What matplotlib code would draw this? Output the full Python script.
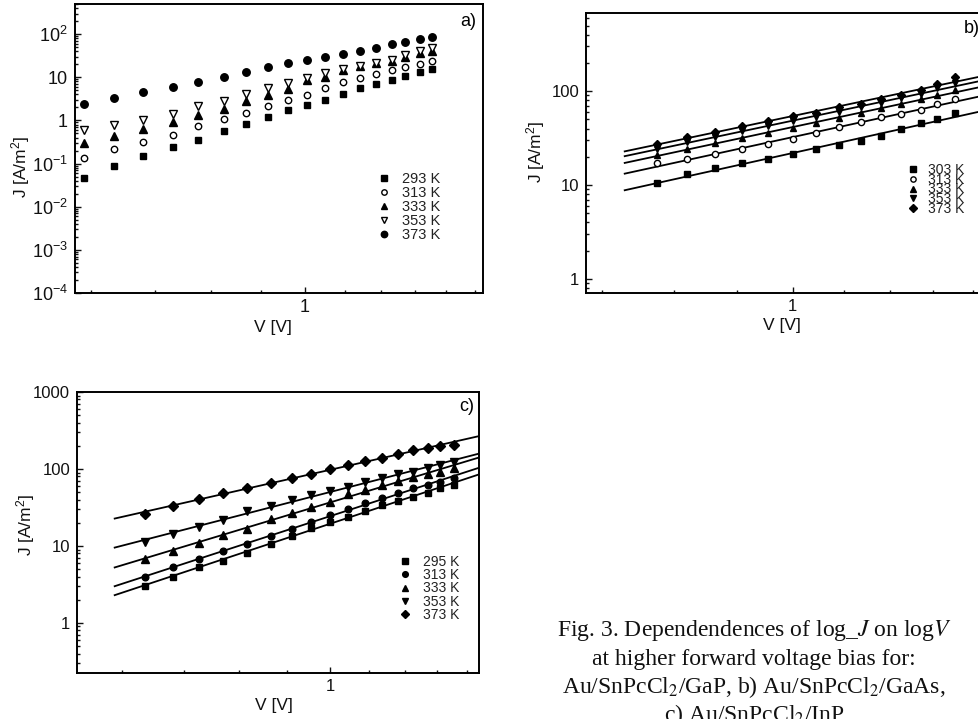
import numpy as np
import matplotlib
matplotlib.use("Agg")
import matplotlib.pyplot as plt
from matplotlib.ticker import FixedLocator, FixedFormatter, NullFormatter, LogLocator

plt.rcParams["font.family"] = ["Liberation Sans", "DejaVu Sans"]
plt.rcParams["mathtext.fontset"] = "custom"
plt.rcParams["mathtext.rm"] = "Liberation Sans"
plt.rcParams["mathtext.it"] = "Liberation Sans:italic"
plt.rcParams["mathtext.bf"] = "Liberation Sans:bold"

# ---------------- data: panel a (Au/SnPcCl2/GaP) ----------------
a_V = [0.59, 0.635, 0.68, 0.73, 0.775, 0.825, 0.87, 0.915, 0.96, 1.005,
       1.05, 1.095, 1.14, 1.185, 1.23, 1.27, 1.315, 1.355]
a_293 = [0.046, 0.089, 0.147, 0.24, 0.36, 0.57, 0.81, 1.2, 1.75, 2.34,
         2.9, 4.1, 5.5, 7.0, 8.5, 10.7, 13.3, 15.8]
a_313 = [0.138, 0.215, 0.32, 0.47, 0.74, 1.09, 1.51, 2.18, 3.0, 3.9,
         5.5, 7.6, 9.5, 12.0, 14.4, 17.4, 20.8, 24.0]
a_333 = [0.30, 0.43, 0.65, 0.93, 1.33, 1.86, 2.8, 3.9, 5.3, 8.7,
         10.0, 14.4, 17.8, 21.0, 24.5, 30.0, 36.0, 40.0]
a_353 = [0.60, 0.78, 1.05, 1.44, 2.15, 2.87, 4.0, 5.5, 7.5, 9.5,
         12.4, 15.4, 18.7, 21.0, 25.3, 33.0, 40.0, 47.0]
a_373 = [2.4, 3.3, 4.5, 6.0, 7.6, 10.0, 13.5, 17.4, 21.5, 25.0,
         29.6, 35.0, 41.0, 47.0, 58.6, 67.5, 76.0, 88.0]
a_labels = ["293 K", "313 K", "333 K", "353 K", "373 K"]

# ---------------- data: panel b (Au/SnPcCl2/GaAs) ----------------
b_V = [0.775, 0.82, 0.865, 0.91, 0.955, 1.0, 1.045, 1.09, 1.135, 1.18,
       1.225, 1.27, 1.31, 1.355]
b_303 = [10.6, 13.0, 15.1, 17.0, 18.8, 21.2, 24.0, 26.7, 29.6, 33.4,
         39.7, 45.3, 50.3, 57.9]
b_313 = [17.0, 19.1, 21.2, 24.0, 27.3, 30.6, 35.5, 41.1, 47.1, 52.5,
         56.9, 63.8, 72.2, 81.6]
b_333 = [20.8, 24.5, 28.2, 32.1, 36.0, 40.1, 45.3, 51.3, 57.9, 65.5,
         72.7, 81.6, 90.6, 102.0]
b_353 = [24.5, 28.9, 32.7, 37.5, 42.4, 48.3, 53.3, 60.3, 67.1, 74.0,
         83.6, 92.9, 107.0, 121.0]
b_373 = [27.3, 32.7, 36.9, 42.4, 48.3, 54.2, 59.3, 67.1, 72.7, 81.6,
         92.2, 104.0, 119.0, 140.0]
b_labels = ["303 K", "313 K", "333 K", "353 K", "373 K"]

# ---------------- data: panel c (Au/SnPcCl2/InP) ----------------
c_V = [0.635, 0.68, 0.725, 0.77, 0.815, 0.865, 0.91, 0.955, 1.0, 1.045,
       1.09, 1.135, 1.18, 1.225, 1.27, 1.31, 1.355]
c_295 = [3.05, 4.0, 5.4, 6.4, 8.2, 10.7, 13.3, 17.0, 20.7, 24.1,
         28.8, 34.1, 38.8, 43.7, 49.2, 56.0, 61.9]
c_313 = [4.0, 5.3, 6.7, 8.5, 10.7, 13.3, 16.5, 20.7, 25.3, 29.9,
         35.8, 41.6, 49.2, 56.0, 61.9, 68.4, 75.5]
c_333 = [6.7, 8.6, 10.9, 13.8, 16.8, 22.2, 27.1, 31.8, 37.2, 47.3,
         53.3, 61.9, 69.8, 79.3, 85.1, 92.1, 102.0]
c_353 = [11.1, 14.1, 17.9, 21.8, 28.2, 33.1, 39.6, 45.9, 52.2, 58.9,
         68.4, 75.5, 85.9, 92.1, 102.0, 112.0, 124.0]
c_373 = [26.0, 33.0, 40.4, 49.2, 57.1, 65.0, 75.5, 85.9, 99.7, 112.0,
         128.0, 141.0, 156.0, 176.0, 190.0, 200.0, 206.0]
c_labels = ["295 K", "313 K", "333 K", "353 K", "373 K"]

# axis tick values / labels
a_yticks = [1e-4, 1e-3, 1e-2, 1e-1, 1, 10, 100]
a_yticklabels = ["$10^{-4}$", "$10^{-3}$", "$10^{-2}$", "$10^{-1}$", "1", "10", "$10^{2}$"]
b_yticks = [1, 10, 100]
b_yticklabels = ["1", "10", "100"]
c_yticks = [1, 10, 100, 1000]
c_yticklabels = ["1", "10", "100", "1000"]
a_xminor = [0.6, 0.7, 0.8, 0.9, 1.1, 1.2, 1.3, 1.4, 1.5]
b_xminor = [0.7, 0.8, 0.9, 1.1, 1.2, 1.3, 1.4]
c_xminor = [0.6, 0.7, 0.8, 0.9, 1.1, 1.2, 1.3, 1.4]

caption = [
    r"Fig. 3. Dependendences of log_$\mathit{J}$ on log$\mathit{V}$",
    "at higher forward voltage bias for:",
    r"Au/SnPcCl$_2$/GaP, b) Au/SnPcCl$_2$/GaAs,",
    r"c) Au/SnPcCl$_2$/InP",
]

W, H = 979, 719
fig = plt.figure(figsize=(W / 100, H / 100), dpi=100)


def box(l, t, r, b):
    return [l / W, 1 - b / H, (r - l) / W, (b - t) / H]


def style(ax, xlim, ylim, xminor, yticks, yticklabels, tsize):
    ax.set_xscale("log")
    ax.set_yscale("log")
    ax.set_xlim(*xlim)
    ax.set_ylim(*ylim)
    ax.xaxis.set_major_locator(FixedLocator([1]))
    ax.xaxis.set_major_formatter(FixedFormatter(["1"]))
    ax.xaxis.set_minor_locator(FixedLocator(xminor))
    ax.xaxis.set_minor_formatter(NullFormatter())
    ax.yaxis.set_major_locator(FixedLocator(yticks))
    ax.yaxis.set_major_formatter(FixedFormatter(yticklabels))
    ax.yaxis.set_minor_locator(LogLocator(base=10, subs=np.arange(2, 10), numticks=50))
    ax.yaxis.set_minor_formatter(NullFormatter())
    ax.tick_params(which="both", direction="in", top=False, right=False,
                   labelsize=tsize, width=1.0, colors="#111111")
    ax.tick_params(which="major", length=4.5)
    ax.tick_params(which="minor", length=2.5)
    ax.tick_params(axis="y", pad=5)
    ax.tick_params(axis="x", pad=4)
    for s in ax.spines.values():
        s.set_linewidth(1.4)
    ax.set_xlabel("V [V]", fontsize=12.5, color="#111111")
    ax.set_ylabel("J [A/m$^{2}$]", fontsize=12.5, color="#111111")


def legend(ax, x, y, spacing, tpad, fs):
    ax.legend(loc="center left", bbox_to_anchor=(x, y), frameon=False, numpoints=1,
              fontsize=fs, handlelength=0.8, handletextpad=tpad, borderpad=0,
              borderaxespad=0, labelspacing=spacing, labelcolor="#222222",
              markerscale=0.85)


# ---------------- panel a ----------------
axa = fig.add_axes(box(75, 4, 483, 293))
style(axa, (0.578, 1.53), (1e-4, 5e2), a_xminor, a_yticks, a_yticklabels, 13)
a_series = [a_293, a_313, a_333, a_353, a_373]
a_mk = [("s", "k"), ("o", "white"), ("^", "k"), ("v", "white"), ("o", "k")]
a_ms = [4.6, 4.6, 5.2, 5.2, 5.4]
for J, (m, fc), ms, lab in zip(a_series, a_mk, a_ms, a_labels):
    axa.plot(a_V, J, ls="none", marker=m, mfc=fc, mec="k", mew=1.0, ms=ms, label=lab)
legend(axa, 0.743, 0.298, 0.0, 0.85, 10.5)
axa.text(0.963, 0.941, "a)", transform=axa.transAxes, ha="center", va="center", fontsize=13)
axa.yaxis.set_label_coords(-0.105, 0.436)
axa.xaxis.set_label_coords(0.485, -0.093)

# ---------------- panel b ----------------
axb = fig.add_axes(box(586, 13, 994, 293))
style(axb, (0.679, 1.457), (0.71, 680), b_xminor, b_yticks, b_yticklabels, 12)
b_series = [b_303, b_313, b_333, b_353, b_373]
b_mk = [("s", "k"), ("o", "white"), ("^", "k"), ("v", "k"), ("D", "k")]
b_ms = [4.5, 4.5, 4.5, 4.5, 4.5]
b_fit = np.array([0.73, 1.46])
for J, (m, fc), ms, lab in zip(b_series, b_mk, b_ms, b_labels):
    k, q = np.polyfit(np.log10(b_V), np.log10(J), 1)
    axb.plot(b_fit, 10 ** (q + k * np.log10(b_fit)), color="k", lw=1.3, zorder=2)
    axb.plot(b_V, J, ls="none", marker=m, mfc=fc, mec="k", mew=1.0, ms=ms, label=lab, zorder=3)
legend(axb, 0.789, 0.370, -0.3, 0.65, 10)
axb.text(0.945, 0.946, "b)", transform=axb.transAxes, ha="center", va="center", fontsize=13)
axb.yaxis.set_label_coords(-0.096, 0.504)
axb.xaxis.set_label_coords(0.48, -0.089)

# ---------------- panel c ----------------
axc = fig.add_axes(box(77, 392, 479, 673))
style(axc, (0.538, 1.44), (0.224, 1000), c_xminor, c_yticks, c_yticklabels, 12)
c_series = [c_295, c_313, c_333, c_353, c_373]
c_mk = [("s", "k"), ("o", "k"), ("^", "k"), ("v", "k"), ("D", "k")]
c_ms = [4.8, 4.8, 5.3, 5.3, 4.8]
c_fit = np.array([0.59, 1.44])
for J, (m, fc), ms, lab in zip(c_series, c_mk, c_ms, c_labels):
    k, q = np.polyfit(np.log10(c_V), np.log10(J), 1)
    axc.plot(c_fit, 10 ** (q + k * np.log10(c_fit)), color="k", lw=1.3, zorder=2)
    axc.plot(c_V, J, ls="none", marker=m, mfc=fc, mec="k", mew=1.0, ms=ms, label=lab, zorder=3)
legend(axc, 0.803, 0.301, -0.05, 0.9, 10)
axc.text(0.970, 0.947, "c)", transform=axc.transAxes, ha="center", va="center", fontsize=13)
axc.yaxis.set_label_coords(-0.10, 0.527)
axc.xaxis.set_label_coords(0.49, -0.089)

# ---------------- caption ----------------
for i, line in enumerate(caption):
    fig.text(754 / W, 1 - (636 + 28.5 * i) / H, line, ha="center", va="baseline",
             fontsize=17, family=["Liberation Serif", "DejaVu Serif"],
             math_fontfamily="stix", color="#111111")

fig.savefig("out.png", dpi=100)
